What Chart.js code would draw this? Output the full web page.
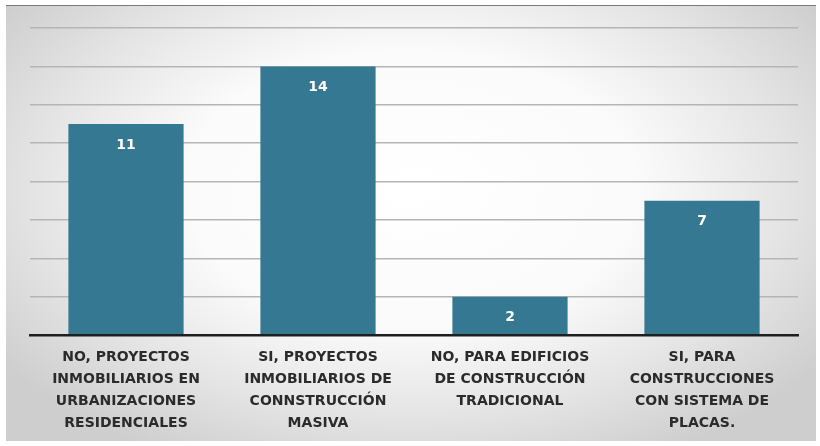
<!DOCTYPE html>
<html>
<head>
<meta charset="utf-8">
<script src="https://cdn.jsdelivr.net/npm/chart.js@4"></script>
<style>
  html, body { margin: 0; padding: 0; background: #fff; }
  #wrap { position: relative; width: 820px; height: 446px; overflow: hidden; }
  #panel {
    position: absolute; left: 6px; top: 5px; width: 810px; height: 435px;
    border-top: 1px solid #7a7a7a;
    background: radial-gradient(ellipse 62% 70% at 50% 42%, #ffffff 0%, #fbfbfb 45%, #e4e4e4 75%, #cecece 100%);
  }
  canvas { position: absolute; left: 0; top: 0; }
</style>
</head>
<body>
<div id="wrap">
  <div id="panel"></div>
  <canvas id="chart" width="820" height="446"></canvas>
</div>
<script>
// categories (one array per label line) and counts
let labels = [
    ["NO, PROYECTOS", "INMOBILIARIOS EN", "URBANIZACIONES", "RESIDENCIALES"],
    ["SI, PROYECTOS", "INMOBILIARIOS DE", "CONNSTRUCCIÓN", "MASIVA"],
    ["NO, PARA EDIFICIOS", "DE CONSTRUCCIÓN", "TRADICIONAL"],
    ["SI, PARA", "CONSTRUCCIONES", "CON SISTEMA DE", "PLACAS."]
];
let counts = [11, 14, 2, 7];

let yMax = 16;
let yStep = 2;

const labelFont = "'DejaVu Sans', Lato, sans-serif";

// value written inside the top of each bar
const barValues = {
    id: "barValues",
    afterDatasetsDraw(chart) {
        let ctx = chart.ctx;
        let meta = chart.getDatasetMeta(0);
        ctx.save();
        ctx.fillStyle = "#ffffff";
        ctx.font = "bold 14px " + labelFont;
        ctx.textAlign = "center";
        ctx.textBaseline = "middle";
        meta.data.forEach((bar, i) => {
            ctx.fillText(String(counts[i]), bar.x, bar.y + 21);
        });
        ctx.restore();
    }
};

new Chart(document.getElementById("chart"), {
    type: "bar",
    data: {
        labels,
        datasets: [{
            data: counts,
            backgroundColor: "#357892",
            categoryPercentage: 1,
            barPercentage: 0.6
        }]
    },
    options: {
        responsive: false,
        animation: false,
        layout: { padding: { left: 30, right: 22, top: 28, bottom: 0 } },
        plugins: {
            legend: { display: false },
            tooltip: { enabled: false }
        },
        scales: {
            x: {
                grid: { display: false, drawTicks: false },
                border: { display: true, color: "#1e1e1e", width: 2.5, z: 1 },
                ticks: {
                    color: "#2b2b2b",
                    padding: 11,
                    maxRotation: 0,
                    autoSkip: false,
                    font: { family: labelFont, size: 14, weight: "bold", lineHeight: 1.57 }
                },
                afterFit(scale) { scale.height = 111; }
            },
            y: {
                min: 0,
                max: yMax,
                ticks: { display: false, stepSize: yStep },
                border: { display: false },
                grid: { color: "#b5b5b5", lineWidth: 1.5, drawTicks: false },
                afterFit(scale) { scale.width = 0; }
            }
        }
    },
    plugins: [barValues]
});
</script>
</body>
</html>
